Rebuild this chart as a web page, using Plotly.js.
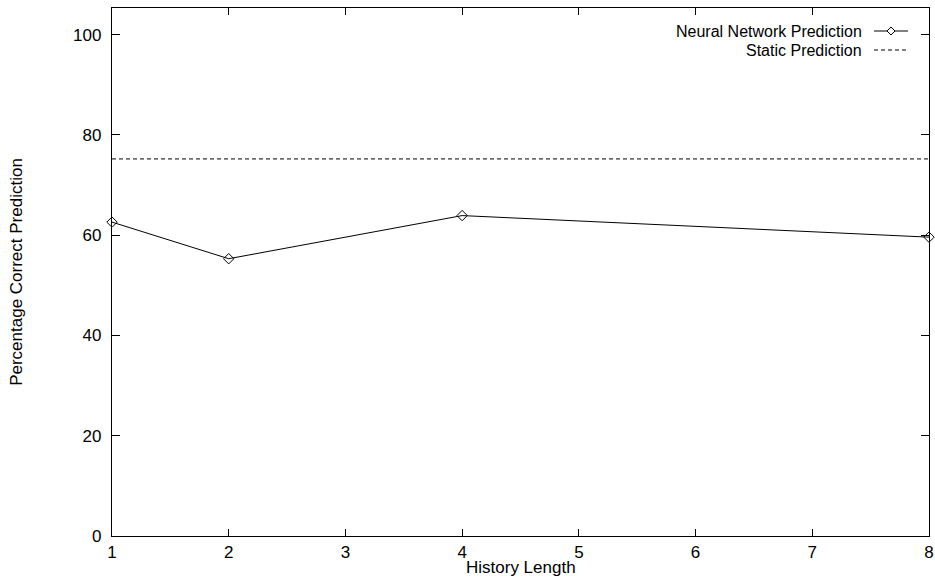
<!DOCTYPE html>
<html>
<head>
<meta charset="utf-8">
<script src="https://cdn.plot.ly/plotly-3.0.1.min.js"></script>
<style>
html,body{margin:0;padding:0;background:#fff;}
#chart{width:935px;height:582px;}
</style>
</head>
<body>
<div id="chart"></div>
<script>
// Data
const historyLength = [1, 2, 4, 8];
const neuralNetwork = [62.6, 55.3, 63.9, 59.6];
const staticPrediction = 75.2;
const xTicks = [1, 2, 3, 4, 5, 6, 7, 8];
const yTicks = [0, 20, 40, 60, 80, 100];
const seriesNames = ["Neural Network Prediction", "Static Prediction"];
const xTitle = "History Length";
const yTitle = "Percentage Correct Prediction";

const FONT = "Liberation Sans, Arial, Helvetica, sans-serif";
const FS = 17;

const traces = [
  {
    x: historyLength,
    y: neuralNetwork,
    type: "scatter",
    mode: "lines+markers",
    line: {color: "#000", width: 1},
    marker: {symbol: "diamond-open", size: 8, color: "#000", line: {width: 1, color: "#000"}},
    showlegend: false,
    cliponaxis: false,
    name: seriesNames[0]
  },
  {
    x: [xTicks[0], xTicks[xTicks.length - 1]],
    y: [staticPrediction, staticPrediction],
    type: "scatter",
    mode: "lines",
    line: {color: "#000", width: 1, dash: "4px,3px"},
    showlegend: false,
    name: seriesNames[1]
  }
];

// plot area in px: x 112..929, y 8..536
const L = 112, R = 929, T = 8, B = 536;
const px = v => (v - L) / (R - L);
const py = v => (B - v) / (B - T);

const row1 = py(31), row2 = py(50);
const dx = 4 / (R - L), dy = 4 / (B - T);
const cx = px(891);

const layout = {
  width: 935, height: 582,
  margin: {l: L, r: 935 - R, t: T, b: 582 - B, pad: 0},
  paper_bgcolor: "#fff",
  plot_bgcolor: "#fff",
  font: {family: FONT, size: FS, color: "#000"},
  xaxis: {
    range: [1, 8],
    tickvals: xTicks,
    ticktext: xTicks.map(String),
    ticks: "inside", ticklen: 7, tickwidth: 1, tickcolor: "#000",
    showline: true, linecolor: "#000", linewidth: 1.2, mirror: "ticks",
    showgrid: false, zeroline: false,
    tickfont: {family: FONT, size: FS},
    automargin: false
  },
  yaxis: {
    range: [0, 105.3],
    tickvals: yTicks,
    ticktext: yTicks.map(String),
    ticks: "inside", ticklen: 8, tickwidth: 1, tickcolor: "#000",
    showline: true, linecolor: "#000", linewidth: 1.2, mirror: "ticks",
    showgrid: false, zeroline: false,
    ticklabelstandoff: 6,
    tickfont: {family: FONT, size: FS},
    title: {text: yTitle, font: {family: FONT, size: FS}, standoff: 46},
    automargin: false
  },
  annotations: [
    {xref: "paper", yref: "paper", x: 0.5, y: py(567), xanchor: "center", yanchor: "middle",
     text: xTitle, showarrow: false, font: {family: FONT, size: FS}},
    {xref: "paper", yref: "paper", x: px(864), y: row1, xanchor: "right", yanchor: "middle",
     text: seriesNames[0], showarrow: false, font: {family: FONT, size: 16}},
    {xref: "paper", yref: "paper", x: px(864), y: row2, xanchor: "right", yanchor: "middle",
     text: seriesNames[1], showarrow: false, font: {family: FONT, size: 16}}
  ],
  shapes: [
    {type: "line", xref: "paper", yref: "paper", x0: px(874), x1: px(908), y0: row1, y1: row1,
     line: {color: "#000", width: 1}},
    {type: "path", xref: "paper", yref: "paper",
     path: `M ${cx - dx} ${row1} L ${cx} ${row1 + dy} L ${cx + dx} ${row1} L ${cx} ${row1 - dy} Z`,
     fillcolor: "#fff", line: {color: "#000", width: 1}},
    {type: "line", xref: "paper", yref: "paper", x0: px(874), x1: px(908), y0: row2, y1: row2,
     line: {color: "#000", width: 1, dash: "4px,3px"}}
  ]
};

Plotly.newPlot("chart", traces, layout, {staticPlot: true, displayModeBar: false});
</script>
</body>
</html>
